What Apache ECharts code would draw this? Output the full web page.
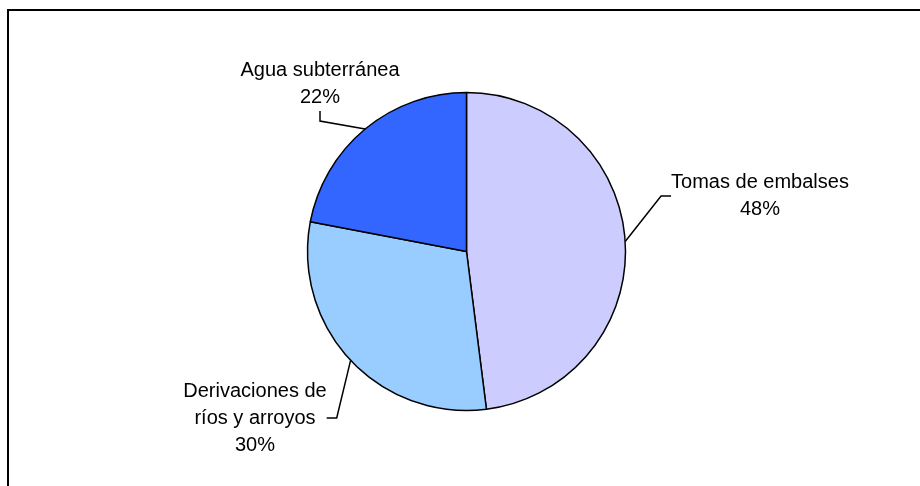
<!DOCTYPE html>
<html>
<head>
<meta charset="utf-8">
<script src="https://cdn.jsdelivr.net/npm/echarts@6/dist/echarts.min.js"></script>
<style>
  html, body { margin: 0; padding: 0; background: #fff; }
  #chart { width: 920px; height: 486px; }
</style>
</head>
<body>
<div id="chart"></div>
<script>
// fuentes de abastecimiento (%)
const categories = ['Tomas de embalses', 'Derivaciones de\nríos y arroyos', 'Agua subterránea'];
const values = [48, 30, 22];
const colors = ['#CCCCFF', '#99CCFF', '#3366FF'];

// posiciones de las etiquetas (centro del bloque de texto)
const labelPos = [
  [760, 196],
  [255, 418],
  [320, 84]
];

const chart = echarts.init(document.getElementById('chart'));

chart.setOption({
  animation: false,
  graphic: [{
    type: 'rect',
    shape: { x: 8, y: 10, width: 1000, height: 1000 },
    style: { fill: 'none', stroke: '#000', lineWidth: 2 },
    silent: true
  }],
  series: [{
    type: 'pie',
    center: [466.5, 251.5],
    radius: 159,
    startAngle: 90,
    clockwise: true,
    data: categories.map((name, i) => ({
      name: name,
      value: values[i],
      itemStyle: { color: colors[i] }
    })),
    itemStyle: { borderColor: '#000', borderWidth: 1.5 },
    label: {
      show: true,
      position: 'outside',
      formatter: '{b}\n{d}%',
      fontFamily: 'Liberation Sans, Arial, sans-serif',
      fontSize: 20,
      lineHeight: 27,
      color: '#000',
      align: 'center'
    },
    labelLine: {
      show: true,
      length: 12,
      length2: 10,
      lineStyle: { color: '#000', width: 1.5 }
    },
    labelLayout: function (params) {
      const p = labelPos[params.dataIndex];
      return {
        x: p[0],
        y: p[1],
        align: 'center',
        verticalAlign: 'middle'
      };
    }
  }]
});
</script>
</body>
</html>
